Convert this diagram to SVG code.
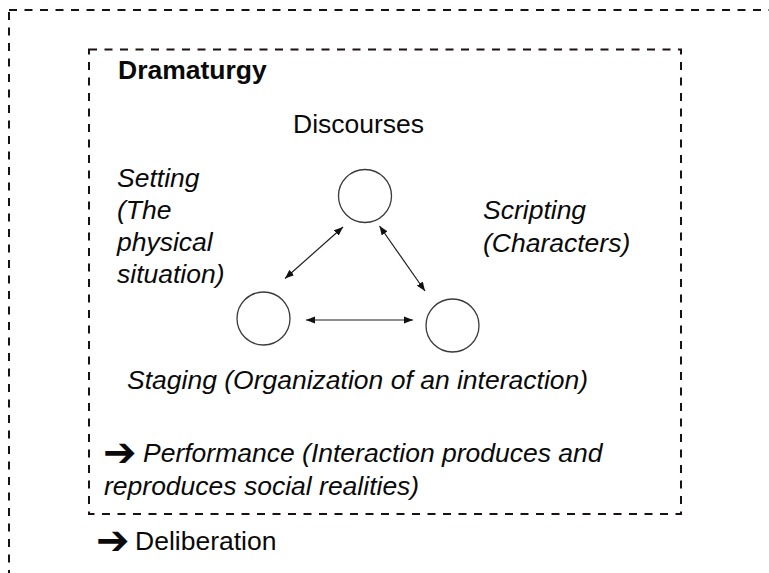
<svg xmlns="http://www.w3.org/2000/svg" width="769" height="573" viewBox="0 0 769 573">
  <style>
    .frame { fill: none; stroke: #1a1212; stroke-width: 2; stroke-dasharray: 8 7.5; }
    .label { font-family: "Liberation Sans", Arial, sans-serif; font-size: 26.5px; fill: #0a0a0a; }
    .it { font-style: italic; }
    .bold { font-weight: bold; }
    .arrow-glyph { font-family: "DejaVu Sans", sans-serif; font-weight: bold; font-style: normal; font-size: 40px; }
    .node circle { fill: #ffffff; stroke: #3a3a3a; stroke-width: 1.3; }
    .link { stroke: #1e1e1e; stroke-width: 1.2; fill: none; marker-start: url(#head); marker-end: url(#head); }
  </style>
  <defs>
    <marker id="head" viewBox="0 0 10 8" refX="10" refY="4" markerWidth="9" markerHeight="7.2" markerUnits="userSpaceOnUse" orient="auto-start-reverse">
      <path d="M0,0 L10,4 L0,8 Z" fill="#111111"/>
    </marker>
  </defs>

  <rect width="769" height="573" fill="#ffffff"/>

  <!-- outer frame, running past the right and bottom edges -->
  <rect class="frame" x="9" y="10" width="800" height="600"/>

  <!-- dramaturgy frame -->
  <rect class="frame" x="89" y="49.5" width="592" height="464.5"/>

  <text class="label bold" x="118" y="78.5">Dramaturgy</text>

  <text class="label" x="293" y="132.5">Discourses</text>

  <text class="label it" x="117" y="186.5">Setting</text>
  <text class="label it" x="117" y="218.5">(The</text>
  <text class="label it" x="117" y="250.5">physical</text>
  <text class="label it" x="117" y="282.5">situation)</text>

  <text class="label it" x="483" y="218.5">Scripting</text>
  <text class="label it" x="483" y="251.5">(Characters)</text>

  <g id="node-discourses" class="node">
    <circle cx="365" cy="196" r="26.5"/>
  </g>
  <g id="node-setting" class="node">
    <circle cx="263.5" cy="318.5" r="26.5"/>
  </g>
  <g id="node-scripting" class="node">
    <circle cx="452.5" cy="325.5" r="26.5"/>
  </g>

  <g id="connectors">
    <line class="link" x1="343" y1="227" x2="285" y2="278.5"/>
    <line class="link" x1="379.5" y1="226" x2="425" y2="291"/>
    <line class="link" x1="306" y1="320" x2="413" y2="320"/>
  </g>

  <text class="label it" x="127" y="389">Staging (Organization of an interaction)</text>

  <text class="label it" y="461.5"><tspan class="arrow-glyph" x="103" dy="4">➔</tspan><tspan x="143" dy="-4">Performance (Interaction produces and</tspan></text>
  <text class="label it" x="104" y="494.5">reproduces social realities)</text>

  <text class="label" y="549.5"><tspan class="arrow-glyph" x="96" dy="4">➔</tspan><tspan x="135" dy="-4">Deliberation</tspan></text>
</svg>
